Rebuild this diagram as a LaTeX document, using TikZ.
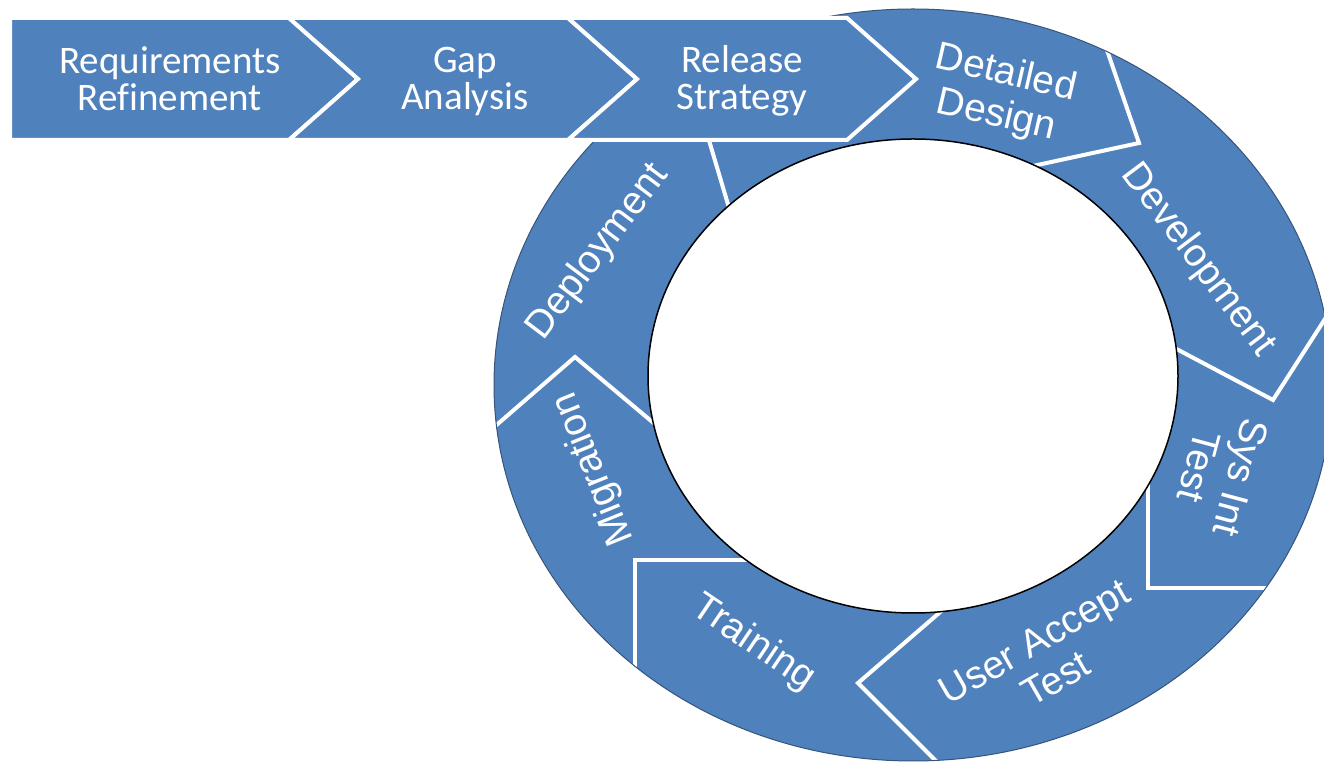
\documentclass[tikz,border=0pt]{standalone}
\usepackage{fontspec}
\setmainfont{Liberation Sans}
\newfontfamily\calib[Ligatures=NoCommon]{Carlito}
\definecolor{segblue}{RGB}{79,129,189}
\definecolor{rimline}{RGB}{56,84,120}
\begin{document}
\begin{tikzpicture}[x=0.5pt,y=-0.5pt,
  sep/.style={draw=white,line width=2pt,line join=miter},
  chev/.style={fill=segblue,draw=white,line width=2pt,line join=miter},
  toplabel/.style={text=white,align=center,font=\calib\fontsize{19.5}{18.5}\selectfont,inner sep=0pt},
  ringlabel/.style={text=white,align=center,font=\fontsize{19.5}{21.5}\selectfont,inner sep=0pt}]
\useasboundingbox (0,0) rectangle (1324,763);
\clip (0,0) rectangle (1324,763);
% ring body
\fill[segblue] (913,385) ellipse [x radius=209.5pt, y radius=188pt];
\begin{scope}
  \clip (913,385) ellipse [x radius=209.5pt, y radius=188pt];
  \draw[sep] (1019,169) -- (1139,143) -- (1100,30);
  \draw[sep] (1150,335) -- (1273,400) -- (1350,280);
  \draw[sep] (1148,460) -- (1148,588) -- (1300,588);
  \draw[sep] (960,595) -- (858,683) -- (960,785);
  \draw[sep] (780,560) -- (635,560) -- (635,700);
  \draw[sep] (675,441) -- (575,357) -- (470,448);
  \draw[sep] (700,110) -- (735,228);
\end{scope}
\filldraw[fill=white,draw=black,line width=0.75pt] (913,376) ellipse [x radius=132.5pt, y radius=118.5pt];
\draw[rimline,line width=0.5pt] (913,385) ellipse [x radius=209.5pt, y radius=188pt];
% top chevrons
\draw[chev] (10,18) -- (289,18) -- (358,79) -- (289,140) -- (10,140) -- cycle;
\draw[chev] (289,18) -- (568,18) -- (637,79) -- (568,140) -- (289,140) -- (358,79) -- cycle;
\draw[chev] (568,18) -- (847,18) -- (916,79) -- (847,140) -- (568,140) -- (637,79) -- cycle;
% labels
\node[toplabel] (req) at (170,79) {Requirements\\Refinement};
\node[toplabel] (gap) at (465,81) {Gap\\Analysis};
\node[toplabel] (rel) at (742,81) {Release\\Strategy};
\node[ringlabel,rotate=-13] (dd) at (1001,95) {Detailed\\Design};
\node[ringlabel,rotate=-53] (dev) at (1198,260) {Development};
\node[ringlabel,rotate=-105] (sit) at (1220,472) {Sys Int\\Test};
\node[ringlabel,rotate=30] (uat) at (1045,660) {User Accept\\Test};
\node[ringlabel,rotate=-34] (trn) at (753,643) {Training};
\node[ringlabel,rotate=112] (mig) at (594,469) {Migration};
\node[ringlabel,rotate=53] (dep) at (598,252) {Deployment};
\end{tikzpicture}
\end{document}
